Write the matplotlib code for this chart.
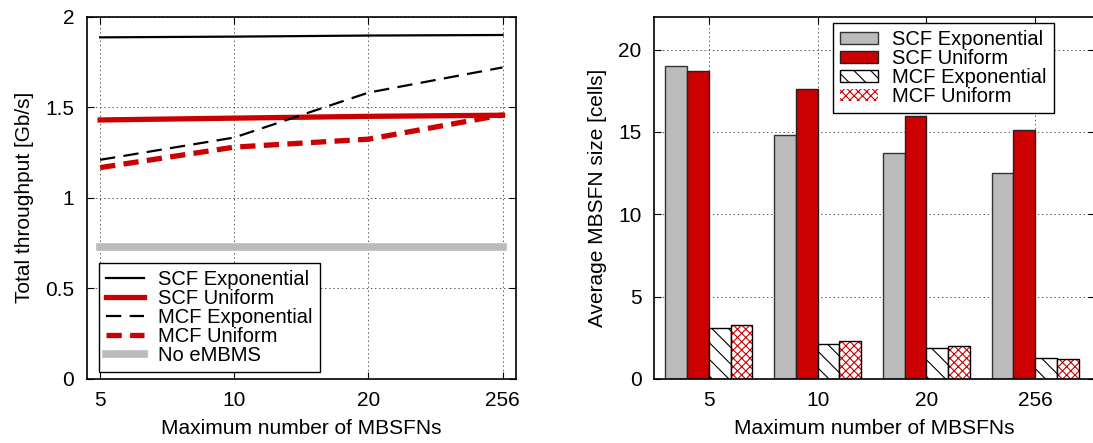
import matplotlib
matplotlib.use("Agg")
import matplotlib.pyplot as plt
import numpy as np

plt.rcParams['font.family'] = ['Liberation Sans', 'DejaVu Sans']
plt.rcParams['lines.scale_dashes'] = False
plt.rcParams['hatch.linewidth'] = 0.8

categories = ["5", "10", "20", "256"]

# Left: total throughput [Gb/s]
thr_scf_exp = [1.886, 1.89, 1.896, 1.899]
thr_scf_uni = [1.43, 1.44, 1.45, 1.456]
thr_mcf_exp = [1.21, 1.333, 1.581, 1.72]
thr_mcf_uni = [1.167, 1.28, 1.324, 1.458]
thr_no_embms = [0.73, 0.73, 0.73, 0.73]

# Right: average MBSFN size [cells]
size_scf_exp = [19.0, 14.8, 13.7, 12.5]
size_scf_uni = [18.7, 17.6, 16.0, 15.1]
size_mcf_exp = [3.1, 2.1, 1.9, 1.3]
size_mcf_uni = [3.3, 2.3, 2.0, 1.2]

RED = '#cc0000'
GRAY = '#bbbbbb'
FS = 15
LFS = 14.5

fig = plt.figure(figsize=(10.93, 4.43), dpi=100)
ax1 = fig.add_axes([86.7/1093, 1-379/443, (516-86.7)/1093, (379-16.7)/443])
ax2 = fig.add_axes([654/1093, 1-379/443, (1095-654)/1093, (379-16.7)/443])

x = np.arange(len(categories))

ax1.plot(x, thr_scf_exp, color='black', lw=1.6, label='SCF Exponential')
ax1.plot(x, thr_scf_uni, color=RED, lw=3.8, label='SCF Uniform')
ax1.plot(x, thr_mcf_exp, color='black', lw=1.6, dashes=(11, 6), label='MCF Exponential')
ax1.plot(x, thr_mcf_uni, color=RED, lw=3.8, dashes=(11, 6), label='MCF Uniform')
ax1.plot(x, thr_no_embms, color=GRAY, lw=5.5, label='No eMBMS')
ax1.set_xlim(-0.1, 3.1)
ax1.set_ylim(0, 2)
ax1.set_xticks(x)
ax1.set_xticklabels(categories)
ax1.set_yticks([0, 0.5, 1, 1.5, 2])
ax1.set_yticklabels(['0', '0.5', '1', '1.5', '2'])
ax1.set_xlabel('Maximum number of MBSFNs', fontsize=FS, labelpad=6)
ax1.set_ylabel('Total throughput [Gb/s]', fontsize=FS, labelpad=8)
leg1 = ax1.legend(loc='lower left', bbox_to_anchor=(0.028, 0.02), fontsize=LFS,
                  frameon=True, fancybox=False, edgecolor='black', framealpha=1,
                  labelspacing=0.0, handlelength=1.9, handletextpad=0.7,
                  borderpad=0.35, borderaxespad=0)
leg1.get_frame().set_linewidth(1.0)

w = 0.2
offs = [-1.5 * w, -0.5 * w, 0.5 * w, 1.5 * w]
ax2.bar(x + offs[0], size_scf_exp, w, color=GRAY, edgecolor='#333333', lw=1.0, label='SCF Exponential')
ax2.bar(x + offs[1], size_scf_uni, w, color=RED, edgecolor='#222222', lw=1.0, label='SCF Uniform')
ax2.bar(x + offs[2], size_mcf_exp, w, color='white', edgecolor='black', hatch='\\\\', lw=1.0, label='MCF Exponential')
ax2.bar(x + offs[3], size_mcf_uni, w, color='white', edgecolor=RED, hatch='xxxx', lw=0, label='MCF Uniform')
ax2.bar(x + offs[3], size_mcf_uni, w, color='none', edgecolor='black', lw=1.0)
ax2.set_xlim(-0.505, 3.55)
ax2.set_ylim(0, 22)
ax2.set_xticks(x)
ax2.set_xticklabels(categories)
ax2.set_yticks([0, 5, 10, 15, 20])
ax2.set_xlabel('Maximum number of MBSFNs', fontsize=FS, labelpad=6)
ax2.set_ylabel('Average MBSFN size [cells]', fontsize=FS, labelpad=8)
handles, labels = ax2.get_legend_handles_labels()
leg2 = ax2.legend(handles[:4], labels[:4], loc='upper left', bbox_to_anchor=(0.405, 0.982), fontsize=LFS,
                  frameon=True, fancybox=False, edgecolor='black', framealpha=1,
                  labelspacing=0.0, handlelength=1.9, handleheight=0.5, handletextpad=0.7,
                  borderpad=0.35, borderaxespad=0)
leg2.get_frame().set_linewidth(1.0)

for ax in (ax1, ax2):
    ax.grid(True, color='#555555', linestyle=(0, (1, 2)), linewidth=0.7)
    ax.set_axisbelow(True)
    ax.tick_params(direction='in', top=True, right=True, labelsize=FS, length=5, width=0.8, pad=9)
    for s in ax.spines.values():
        s.set_linewidth(1.2)

fig.savefig('out.png', dpi=100)
